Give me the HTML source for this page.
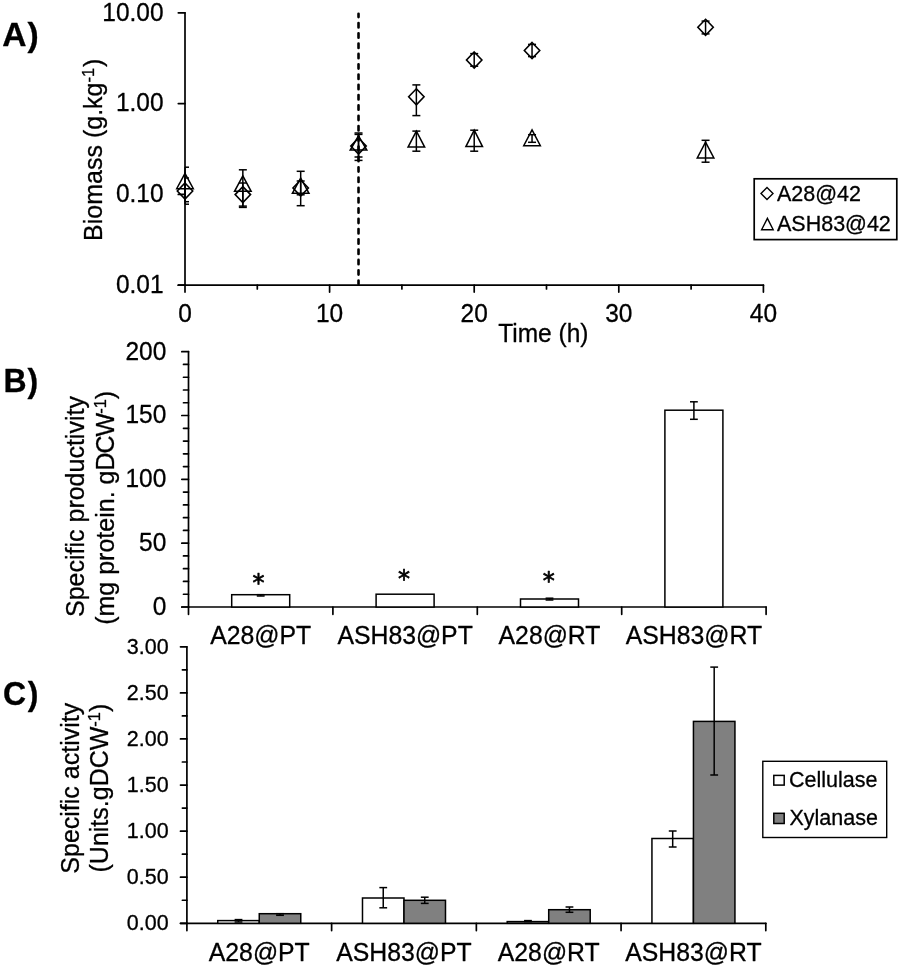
<!DOCTYPE html>
<html lang="en"><head><meta charset="utf-8"><title>Figure</title>
<style>html,body{margin:0;padding:0;background:#fff}svg{display:block;will-change:transform;filter:grayscale(1)}</style>
</head><body>
<svg width="900" height="969" viewBox="0 0 900 969" font-family='"Liberation Sans", Arial, Helvetica, sans-serif' fill="#000" stroke="#000" stroke-linecap="butt" stroke-linejoin="miter">
<rect x="0" y="0" width="900" height="969" fill="#fff" stroke="none"/>
<g id="panelA">
<line x1="185.00" y1="12.80" x2="185.00" y2="285.20" stroke-width="1.7" stroke-linecap="round"/>
<line x1="178.30" y1="285.20" x2="763.40" y2="285.20" stroke-width="1.7" stroke-linecap="round"/>
<line x1="178.30" y1="12.80" x2="185.00" y2="12.80" stroke-width="1.7" stroke-linecap="round"/>
<line x1="178.30" y1="103.60" x2="185.00" y2="103.60" stroke-width="1.7" stroke-linecap="round"/>
<line x1="178.30" y1="194.40" x2="185.00" y2="194.40" stroke-width="1.7" stroke-linecap="round"/>
<line x1="178.30" y1="285.20" x2="185.00" y2="285.20" stroke-width="1.7" stroke-linecap="round"/>
<line x1="185.00" y1="285.20" x2="185.00" y2="292.10" stroke-width="1.7" stroke-linecap="round"/>
<line x1="257.30" y1="285.20" x2="257.30" y2="289.00" stroke-width="1.7" stroke-linecap="round"/>
<line x1="329.60" y1="285.20" x2="329.60" y2="292.10" stroke-width="1.7" stroke-linecap="round"/>
<line x1="401.90" y1="285.20" x2="401.90" y2="289.00" stroke-width="1.7" stroke-linecap="round"/>
<line x1="474.20" y1="285.20" x2="474.20" y2="292.10" stroke-width="1.7" stroke-linecap="round"/>
<line x1="546.50" y1="285.20" x2="546.50" y2="289.00" stroke-width="1.7" stroke-linecap="round"/>
<line x1="618.80" y1="285.20" x2="618.80" y2="292.10" stroke-width="1.7" stroke-linecap="round"/>
<line x1="691.10" y1="285.20" x2="691.10" y2="289.00" stroke-width="1.7" stroke-linecap="round"/>
<line x1="763.40" y1="285.20" x2="763.40" y2="292.10" stroke-width="1.7" stroke-linecap="round"/>
<line x1="358.52" y1="13.7" x2="358.52" y2="283.90" stroke-width="2.6" stroke-dashoffset="1" stroke-dasharray="4.4 5.9" stroke-linecap="round"/>
<g stroke-width="0.3" stroke-linejoin="round">
<text transform="translate(163.60 20.50) scale(1 1.02)" font-size="24.5" text-anchor="end" >10.00</text>
<text transform="translate(163.60 111.30) scale(1 1.02)" font-size="24.5" text-anchor="end" >1.00</text>
<text transform="translate(163.60 202.10) scale(1 1.02)" font-size="24.5" text-anchor="end" >0.10</text>
<text transform="translate(163.60 292.90) scale(1 1.02)" font-size="24.5" text-anchor="end" >0.01</text>
<text transform="translate(185.00 321.80) scale(1 1.02)" font-size="24.5" text-anchor="middle" >0</text>
<text transform="translate(329.60 321.80) scale(1 1.02)" font-size="24.5" text-anchor="middle" >10</text>
<text transform="translate(474.20 321.80) scale(1 1.02)" font-size="24.5" text-anchor="middle" >20</text>
<text transform="translate(618.80 321.80) scale(1 1.02)" font-size="24.5" text-anchor="middle" >30</text>
<text transform="translate(763.40 321.80) scale(1 1.02)" font-size="24.5" text-anchor="middle" >40</text>
<text transform="translate(543.30 342.20) scale(1 1.02)" font-size="24.5" text-anchor="middle" >Time (h)</text>
<text transform="translate(101.8 240.9) rotate(-90)" font-size="25">Biomass (g.kg<tspan font-size="16.5" dy="-8">-1</tspan><tspan dy="8" dx="0.8">)</tspan></text>
<text transform="translate(2.30 46.10) scale(1.05 1.03)" font-size="32" text-anchor="start" font-weight="bold">A<tspan dx="1">)</tspan></text>
</g>
<line x1="185.00" y1="178.00" x2="185.00" y2="204.20" stroke-width="1.5" />
<line x1="185.00" y1="178.00" x2="189.00" y2="178.00" stroke-width="1.5" />
<line x1="185.00" y1="204.20" x2="189.00" y2="204.20" stroke-width="1.5" />
<line x1="185.00" y1="167.20" x2="185.00" y2="201.70" stroke-width="1.5" />
<line x1="185.00" y1="167.20" x2="189.00" y2="167.20" stroke-width="1.5" />
<line x1="185.00" y1="201.70" x2="189.00" y2="201.70" stroke-width="1.5" />
<path d="M185.00 183.00 L192.70 191.00 L185.00 199.00 L177.30 191.00 Z" fill="none" stroke-width="1.6"/>
<path d="M185.00 173.30 L193.30 188.70 L176.70 188.70 Z" fill="none" stroke-width="1.5"/>
<line x1="242.84" y1="183.00" x2="242.84" y2="207.40" stroke-width="1.5" />
<line x1="238.84" y1="183.00" x2="246.84" y2="183.00" stroke-width="1.5" />
<line x1="238.84" y1="207.40" x2="246.84" y2="207.40" stroke-width="1.5" />
<line x1="242.84" y1="169.80" x2="242.84" y2="206.10" stroke-width="1.5" />
<line x1="238.84" y1="169.80" x2="246.84" y2="169.80" stroke-width="1.5" />
<line x1="238.84" y1="206.10" x2="246.84" y2="206.10" stroke-width="1.5" />
<path d="M242.84 186.60 L250.54 194.60 L242.84 202.60 L235.14 194.60 Z" fill="none" stroke-width="1.6"/>
<path d="M242.84 175.80 L251.14 191.30 L234.54 191.30 Z" fill="none" stroke-width="1.5"/>
<line x1="300.68" y1="181.00" x2="300.68" y2="194.80" stroke-width="1.5" />
<line x1="296.68" y1="181.00" x2="304.68" y2="181.00" stroke-width="1.5" />
<line x1="296.68" y1="194.80" x2="304.68" y2="194.80" stroke-width="1.5" />
<line x1="300.68" y1="171.30" x2="300.68" y2="205.70" stroke-width="1.5" />
<line x1="296.68" y1="171.30" x2="304.68" y2="171.30" stroke-width="1.5" />
<line x1="296.68" y1="205.70" x2="304.68" y2="205.70" stroke-width="1.5" />
<path d="M300.68 180.00 L308.38 188.00 L300.68 196.00 L292.98 188.00 Z" fill="none" stroke-width="1.6"/>
<path d="M300.68 178.00 L308.98 193.30 L292.38 193.30 Z" fill="none" stroke-width="1.5"/>
<line x1="358.52" y1="134.40" x2="358.52" y2="160.40" stroke-width="1.5" />
<line x1="354.52" y1="134.40" x2="362.52" y2="134.40" stroke-width="1.5" />
<line x1="354.52" y1="160.40" x2="362.52" y2="160.40" stroke-width="1.5" />
<line x1="358.52" y1="133.00" x2="358.52" y2="157.00" stroke-width="1.5" />
<line x1="354.52" y1="133.00" x2="362.52" y2="133.00" stroke-width="1.5" />
<line x1="354.52" y1="157.00" x2="362.52" y2="157.00" stroke-width="1.5" />
<path d="M358.52 138.00 L366.22 146.00 L358.52 154.00 L350.82 146.00 Z" fill="none" stroke-width="1.6"/>
<path d="M358.52 135.80 L366.82 150.00 L350.22 150.00 Z" fill="none" stroke-width="1.5"/>
<line x1="416.36" y1="84.90" x2="416.36" y2="115.60" stroke-width="1.5" />
<line x1="412.36" y1="84.90" x2="420.36" y2="84.90" stroke-width="1.5" />
<line x1="412.36" y1="115.60" x2="420.36" y2="115.60" stroke-width="1.5" />
<line x1="416.36" y1="131.10" x2="416.36" y2="151.20" stroke-width="1.5" />
<line x1="412.36" y1="131.10" x2="420.36" y2="131.10" stroke-width="1.5" />
<line x1="412.36" y1="151.20" x2="420.36" y2="151.20" stroke-width="1.5" />
<path d="M416.36 88.80 L424.06 96.80 L416.36 104.80 L408.66 96.80 Z" fill="none" stroke-width="1.6"/>
<path d="M416.36 131.10 L424.66 147.10 L408.06 147.10 Z" fill="none" stroke-width="1.5"/>
<line x1="474.20" y1="53.60" x2="474.20" y2="66.20" stroke-width="1.5" />
<line x1="470.20" y1="53.60" x2="478.20" y2="53.60" stroke-width="1.5" />
<line x1="470.20" y1="66.20" x2="478.20" y2="66.20" stroke-width="1.5" />
<line x1="474.20" y1="130.20" x2="474.20" y2="151.20" stroke-width="1.5" />
<line x1="470.20" y1="130.20" x2="478.20" y2="130.20" stroke-width="1.5" />
<line x1="470.20" y1="151.20" x2="478.20" y2="151.20" stroke-width="1.5" />
<path d="M474.20 52.00 L481.90 60.00 L474.20 68.00 L466.50 60.00 Z" fill="none" stroke-width="1.6"/>
<path d="M474.20 130.20 L482.50 146.60 L465.90 146.60 Z" fill="none" stroke-width="1.5"/>
<line x1="532.04" y1="44.40" x2="532.04" y2="56.60" stroke-width="1.5" />
<line x1="528.04" y1="44.40" x2="536.04" y2="44.40" stroke-width="1.5" />
<line x1="528.04" y1="56.60" x2="536.04" y2="56.60" stroke-width="1.5" />
<line x1="532.04" y1="134.70" x2="532.04" y2="142.30" stroke-width="1.5" />
<line x1="528.04" y1="134.70" x2="536.04" y2="134.70" stroke-width="1.5" />
<line x1="528.04" y1="142.30" x2="536.04" y2="142.30" stroke-width="1.5" />
<path d="M532.04 42.50 L539.74 50.50 L532.04 58.50 L524.34 50.50 Z" fill="none" stroke-width="1.6"/>
<path d="M532.04 129.90 L540.34 145.70 L523.74 145.70 Z" fill="none" stroke-width="1.5"/>
<line x1="705.56" y1="21.10" x2="705.56" y2="33.90" stroke-width="1.5" />
<line x1="701.56" y1="21.10" x2="709.56" y2="21.10" stroke-width="1.5" />
<line x1="701.56" y1="33.90" x2="709.56" y2="33.90" stroke-width="1.5" />
<line x1="705.56" y1="140.30" x2="705.56" y2="162.20" stroke-width="1.5" />
<line x1="701.56" y1="140.30" x2="709.56" y2="140.30" stroke-width="1.5" />
<line x1="701.56" y1="162.20" x2="709.56" y2="162.20" stroke-width="1.5" />
<path d="M705.56 19.30 L713.26 27.30 L705.56 35.30 L697.86 27.30 Z" fill="none" stroke-width="1.6"/>
<path d="M705.56 142.10 L713.86 157.90 L697.26 157.90 Z" fill="none" stroke-width="1.5"/>
<rect x="754.2" y="178.8" width="142.6" height="60.8" fill="none" stroke-width="1.7"/>
<path d="M767.00 187.40 L773.00 193.40 L767.00 199.40 L761.00 193.40 Z" fill="none" stroke-width="1.4"/>
<path d="M767.40 218.40 L773.20 229.80 L761.60 229.80 Z" fill="none" stroke-width="1.4"/>
<g stroke-width="0.3" stroke-linejoin="round">
<text transform="translate(777.00 200.90) scale(1 1.02)" font-size="21.5" text-anchor="start" >A28@42</text>
<text transform="translate(777.00 230.90) scale(1 1.02)" font-size="21.5" text-anchor="start" >ASH83@42</text>
</g>
</g>
<g id="panelB">
<line x1="188.50" y1="351.70" x2="188.50" y2="607.00" stroke-width="1.7" stroke-linecap="round"/>
<line x1="181.80" y1="607.00" x2="766.10" y2="607.00" stroke-width="1.7" stroke-linecap="round"/>
<line x1="181.80" y1="607.00" x2="188.50" y2="607.00" stroke-width="1.7" stroke-linecap="round"/>
<line x1="183.50" y1="594.24" x2="188.50" y2="594.24" stroke-width="1.7" stroke-linecap="round"/>
<line x1="183.50" y1="581.47" x2="188.50" y2="581.47" stroke-width="1.7" stroke-linecap="round"/>
<line x1="183.50" y1="568.71" x2="188.50" y2="568.71" stroke-width="1.7" stroke-linecap="round"/>
<line x1="183.50" y1="555.94" x2="188.50" y2="555.94" stroke-width="1.7" stroke-linecap="round"/>
<line x1="181.80" y1="543.17" x2="188.50" y2="543.17" stroke-width="1.7" stroke-linecap="round"/>
<line x1="183.50" y1="530.41" x2="188.50" y2="530.41" stroke-width="1.7" stroke-linecap="round"/>
<line x1="183.50" y1="517.64" x2="188.50" y2="517.64" stroke-width="1.7" stroke-linecap="round"/>
<line x1="183.50" y1="504.88" x2="188.50" y2="504.88" stroke-width="1.7" stroke-linecap="round"/>
<line x1="183.50" y1="492.12" x2="188.50" y2="492.12" stroke-width="1.7" stroke-linecap="round"/>
<line x1="181.80" y1="479.35" x2="188.50" y2="479.35" stroke-width="1.7" stroke-linecap="round"/>
<line x1="183.50" y1="466.59" x2="188.50" y2="466.59" stroke-width="1.7" stroke-linecap="round"/>
<line x1="183.50" y1="453.82" x2="188.50" y2="453.82" stroke-width="1.7" stroke-linecap="round"/>
<line x1="183.50" y1="441.06" x2="188.50" y2="441.06" stroke-width="1.7" stroke-linecap="round"/>
<line x1="183.50" y1="428.29" x2="188.50" y2="428.29" stroke-width="1.7" stroke-linecap="round"/>
<line x1="181.80" y1="415.52" x2="188.50" y2="415.52" stroke-width="1.7" stroke-linecap="round"/>
<line x1="183.50" y1="402.76" x2="188.50" y2="402.76" stroke-width="1.7" stroke-linecap="round"/>
<line x1="183.50" y1="390.00" x2="188.50" y2="390.00" stroke-width="1.7" stroke-linecap="round"/>
<line x1="183.50" y1="377.23" x2="188.50" y2="377.23" stroke-width="1.7" stroke-linecap="round"/>
<line x1="183.50" y1="364.47" x2="188.50" y2="364.47" stroke-width="1.7" stroke-linecap="round"/>
<line x1="181.80" y1="351.70" x2="188.50" y2="351.70" stroke-width="1.7" stroke-linecap="round"/>
<line x1="188.50" y1="607.00" x2="188.50" y2="614.30" stroke-width="1.7" stroke-linecap="round"/>
<line x1="332.90" y1="607.00" x2="332.90" y2="614.30" stroke-width="1.7" stroke-linecap="round"/>
<line x1="477.30" y1="607.00" x2="477.30" y2="614.30" stroke-width="1.7" stroke-linecap="round"/>
<line x1="621.70" y1="607.00" x2="621.70" y2="614.30" stroke-width="1.7" stroke-linecap="round"/>
<line x1="766.10" y1="607.00" x2="766.10" y2="614.30" stroke-width="1.7" stroke-linecap="round"/>
<g stroke-width="0.3" stroke-linejoin="round">
<text transform="translate(166.30 614.80) scale(1 1.02)" font-size="24.5" text-anchor="end" >0</text>
<text transform="translate(166.30 550.97) scale(1 1.02)" font-size="24.5" text-anchor="end" >50</text>
<text transform="translate(166.30 487.15) scale(1 1.02)" font-size="24.5" text-anchor="end" >100</text>
<text transform="translate(166.30 423.32) scale(1 1.02)" font-size="24.5" text-anchor="end" >150</text>
<text transform="translate(166.30 359.50) scale(1 1.02)" font-size="24.5" text-anchor="end" >200</text>
<text transform="translate(260.70 643.60) scale(1 1.02)" font-size="24.8" text-anchor="middle" >A28@PT</text>
<text transform="translate(405.10 643.60) scale(1 1.02)" font-size="24.8" text-anchor="middle" >ASH83@PT</text>
<text transform="translate(549.50 643.60) scale(1 1.02)" font-size="24.8" text-anchor="middle" >A28@RT</text>
<text transform="translate(693.90 643.60) scale(1 1.02)" font-size="24.8" text-anchor="middle" >ASH83@RT</text>
<text transform="translate(83.6 617.0) rotate(-90)" font-size="25">Specific productivity</text>
<text transform="translate(113.7 624.8) rotate(-90)" font-size="25">(mg protein. g<tspan letter-spacing="-1">DCW</tspan><tspan font-size="16.5" dy="-8">-1</tspan><tspan dy="8">)</tspan></text>
<text transform="translate(3.40 391.60) scale(1 1.035)" font-size="32" text-anchor="start" font-weight="bold">B<tspan dx="1">)</tspan></text>
</g>
<rect x="231.70" y="594.70" width="58" height="12.30" fill="#fff" stroke-width="1.5"/>
<line x1="260.70" y1="594.70" x2="260.70" y2="596.00" stroke-width="1.5" />
<line x1="256.80" y1="594.70" x2="264.60" y2="594.70" stroke-width="1.5" />
<line x1="256.80" y1="596.00" x2="264.60" y2="596.00" stroke-width="1.5" />
<rect x="376.10" y="594.20" width="58" height="12.80" fill="#fff" stroke-width="1.5"/>
<rect x="520.50" y="599.00" width="58" height="8.00" fill="#fff" stroke-width="1.5"/>
<line x1="549.50" y1="598.20" x2="549.50" y2="600.00" stroke-width="1.5" />
<line x1="545.60" y1="598.20" x2="553.40" y2="598.20" stroke-width="1.5" />
<line x1="545.60" y1="600.00" x2="553.40" y2="600.00" stroke-width="1.5" />
<rect x="664.90" y="410.20" width="58" height="196.80" fill="#fff" stroke-width="1.5"/>
<line x1="693.90" y1="401.80" x2="693.90" y2="419.30" stroke-width="1.5" />
<line x1="690.00" y1="401.80" x2="697.80" y2="401.80" stroke-width="1.5" />
<line x1="690.00" y1="419.30" x2="697.80" y2="419.30" stroke-width="1.5" />
<g stroke-width="0.7" stroke-linejoin="round" font-family='"DejaVu Sans", "Liberation Sans", sans-serif'>
<text transform="translate(258.50 590.50) scale(1 1.02)" font-size="24" text-anchor="middle" >*</text>
<text transform="translate(404.10 586.80) scale(1 1.02)" font-size="24" text-anchor="middle" >*</text>
<text transform="translate(548.80 588.50) scale(1 1.02)" font-size="24" text-anchor="middle" >*</text>
</g>
</g>
<g id="panelC">
<line x1="186.90" y1="646.80" x2="186.90" y2="923.30" stroke-width="1.7" stroke-linecap="round"/>
<line x1="180.50" y1="923.30" x2="765.80" y2="923.30" stroke-width="1.7" stroke-linecap="round"/>
<line x1="180.50" y1="923.30" x2="186.90" y2="923.30" stroke-width="1.7" stroke-linecap="round"/>
<line x1="182.40" y1="900.26" x2="186.90" y2="900.26" stroke-width="1.7" stroke-linecap="round"/>
<line x1="180.50" y1="877.22" x2="186.90" y2="877.22" stroke-width="1.7" stroke-linecap="round"/>
<line x1="182.40" y1="854.17" x2="186.90" y2="854.17" stroke-width="1.7" stroke-linecap="round"/>
<line x1="180.50" y1="831.13" x2="186.90" y2="831.13" stroke-width="1.7" stroke-linecap="round"/>
<line x1="182.40" y1="808.09" x2="186.90" y2="808.09" stroke-width="1.7" stroke-linecap="round"/>
<line x1="180.50" y1="785.05" x2="186.90" y2="785.05" stroke-width="1.7" stroke-linecap="round"/>
<line x1="182.40" y1="762.01" x2="186.90" y2="762.01" stroke-width="1.7" stroke-linecap="round"/>
<line x1="180.50" y1="738.97" x2="186.90" y2="738.97" stroke-width="1.7" stroke-linecap="round"/>
<line x1="182.40" y1="715.92" x2="186.90" y2="715.92" stroke-width="1.7" stroke-linecap="round"/>
<line x1="180.50" y1="692.88" x2="186.90" y2="692.88" stroke-width="1.7" stroke-linecap="round"/>
<line x1="182.40" y1="669.84" x2="186.90" y2="669.84" stroke-width="1.7" stroke-linecap="round"/>
<line x1="180.50" y1="646.80" x2="186.90" y2="646.80" stroke-width="1.7" stroke-linecap="round"/>
<line x1="186.90" y1="923.30" x2="186.90" y2="930.60" stroke-width="1.7" stroke-linecap="round"/>
<line x1="331.62" y1="923.30" x2="331.62" y2="930.60" stroke-width="1.7" stroke-linecap="round"/>
<line x1="476.35" y1="923.30" x2="476.35" y2="930.60" stroke-width="1.7" stroke-linecap="round"/>
<line x1="621.07" y1="923.30" x2="621.07" y2="930.60" stroke-width="1.7" stroke-linecap="round"/>
<line x1="765.80" y1="923.30" x2="765.80" y2="930.60" stroke-width="1.7" stroke-linecap="round"/>
<g stroke-width="0.3" stroke-linejoin="round">
<text transform="translate(168.70 930.20) scale(1 1.02)" font-size="21.5" text-anchor="end" >0.00</text>
<text transform="translate(168.70 884.12) scale(1 1.02)" font-size="21.5" text-anchor="end" >0.50</text>
<text transform="translate(168.70 838.03) scale(1 1.02)" font-size="21.5" text-anchor="end" >1.00</text>
<text transform="translate(168.70 791.95) scale(1 1.02)" font-size="21.5" text-anchor="end" >1.50</text>
<text transform="translate(168.70 745.87) scale(1 1.02)" font-size="21.5" text-anchor="end" >2.00</text>
<text transform="translate(168.70 699.78) scale(1 1.02)" font-size="21.5" text-anchor="end" >2.50</text>
<text transform="translate(168.70 653.70) scale(1 1.02)" font-size="21.5" text-anchor="end" >3.00</text>
<text transform="translate(259.26 960.60) scale(1 1.02)" font-size="24.8" text-anchor="middle" >A28@PT</text>
<text transform="translate(403.99 960.60) scale(1 1.02)" font-size="24.8" text-anchor="middle" >ASH83@PT</text>
<text transform="translate(548.71 960.60) scale(1 1.02)" font-size="24.8" text-anchor="middle" >A28@RT</text>
<text transform="translate(693.44 960.60) scale(1 1.02)" font-size="24.8" text-anchor="middle" >ASH83@RT</text>
<text transform="translate(79.4 873.7) rotate(-90)" font-size="25">Specific activity</text>
<text transform="translate(108.3 872.5) rotate(-90)" font-size="25">(Units.gDCW<tspan font-size="16.5" dy="-8">-1</tspan><tspan dy="8">)</tspan></text>
<text transform="translate(3.10 704.60) scale(1 1.035)" font-size="32" text-anchor="start" font-weight="bold">C<tspan dx="1.5">)</tspan></text>
</g>
<rect x="217.76" y="920.60" width="41.5" height="2.70" fill="#fff" stroke-width="1.5"/>
<rect x="259.26" y="913.70" width="41.5" height="9.60" fill="#808080" stroke-width="1.5"/>
<line x1="238.51" y1="919.60" x2="238.51" y2="922.00" stroke-width="1.5" />
<line x1="234.61" y1="919.60" x2="242.41" y2="919.60" stroke-width="1.5" />
<line x1="234.61" y1="922.00" x2="242.41" y2="922.00" stroke-width="1.5" />
<line x1="280.01" y1="913.70" x2="280.01" y2="915.30" stroke-width="1.5" />
<line x1="276.11" y1="913.70" x2="283.91" y2="913.70" stroke-width="1.5" />
<line x1="276.11" y1="915.30" x2="283.91" y2="915.30" stroke-width="1.5" />
<rect x="362.49" y="898.00" width="41.5" height="25.30" fill="#fff" stroke-width="1.5"/>
<rect x="403.99" y="900.30" width="41.5" height="23.00" fill="#808080" stroke-width="1.5"/>
<line x1="383.24" y1="887.60" x2="383.24" y2="907.80" stroke-width="1.5" />
<line x1="379.34" y1="887.60" x2="387.14" y2="887.60" stroke-width="1.5" />
<line x1="379.34" y1="907.80" x2="387.14" y2="907.80" stroke-width="1.5" />
<line x1="424.74" y1="897.20" x2="424.74" y2="903.40" stroke-width="1.5" />
<line x1="420.84" y1="897.20" x2="428.64" y2="897.20" stroke-width="1.5" />
<line x1="420.84" y1="903.40" x2="428.64" y2="903.40" stroke-width="1.5" />
<rect x="507.21" y="921.60" width="41.5" height="1.70" fill="#fff" stroke-width="1.5"/>
<rect x="548.71" y="909.70" width="41.5" height="13.60" fill="#808080" stroke-width="1.5"/>
<line x1="527.96" y1="920.60" x2="527.96" y2="921.60" stroke-width="1.5" />
<line x1="524.06" y1="920.60" x2="531.86" y2="920.60" stroke-width="1.5" />
<line x1="524.06" y1="921.60" x2="531.86" y2="921.60" stroke-width="1.5" />
<line x1="569.46" y1="907.00" x2="569.46" y2="912.30" stroke-width="1.5" />
<line x1="565.56" y1="907.00" x2="573.36" y2="907.00" stroke-width="1.5" />
<line x1="565.56" y1="912.30" x2="573.36" y2="912.30" stroke-width="1.5" />
<rect x="651.94" y="838.50" width="41.5" height="84.80" fill="#fff" stroke-width="1.5"/>
<rect x="693.44" y="721.40" width="41.5" height="201.90" fill="#808080" stroke-width="1.5"/>
<line x1="672.69" y1="831.00" x2="672.69" y2="847.00" stroke-width="1.5" />
<line x1="668.79" y1="831.00" x2="676.59" y2="831.00" stroke-width="1.5" />
<line x1="668.79" y1="847.00" x2="676.59" y2="847.00" stroke-width="1.5" />
<line x1="714.19" y1="667.10" x2="714.19" y2="775.00" stroke-width="1.5" />
<line x1="710.29" y1="667.10" x2="718.09" y2="667.10" stroke-width="1.5" />
<line x1="710.29" y1="775.00" x2="718.09" y2="775.00" stroke-width="1.5" />
<rect x="762.8" y="761.3" width="123.9" height="76.2" fill="none" stroke-width="1.4"/>
<rect x="773.8" y="775.4" width="10.4" height="9.7" fill="#fff" stroke-width="1.5"/>
<rect x="773.8" y="813.3" width="10.4" height="10.2" fill="#808080" stroke-width="1.5"/>
<g stroke-width="0.3" stroke-linejoin="round">
<text transform="translate(789.00 786.70) scale(1 1.02)" font-size="21.5" text-anchor="start" >Cellulase</text>
<text transform="translate(789.50 824.90) scale(1 1.02)" font-size="21.5" text-anchor="start" >Xylanase</text>
</g>
</g>
</svg>
</body></html>
